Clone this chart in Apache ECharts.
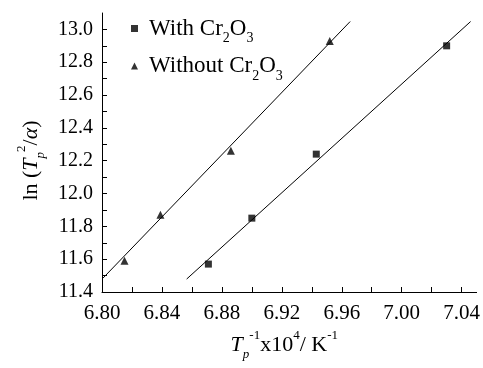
<!DOCTYPE html>
<html>
<head>
<meta charset="utf-8">
<script src="https://cdn.jsdelivr.net/npm/echarts@6/dist/echarts.min.js"></script>
<style>
  html, body { margin: 0; padding: 0; background: #fff; }
  #chart { width: 483px; height: 368px; }
</style>
</head>
<body>
<div id="chart"></div>
<script>
// measured points, [1/Tp x10^4, ln(Tp^2/a)]
const withCr2O3 = [[6.871, 11.57], [6.900, 11.85], [6.943, 12.24], [7.030, 12.90]];
const withoutCr2O3 = [[6.815, 11.59], [6.839, 11.87], [6.886, 12.26], [6.952, 12.93]];
// fitted lines (end points)
const fitWith = [[6.8565, 11.479], [7.046, 13.048]];
const fitWithout = [[6.8007, 11.485], [6.9656, 13.048]];

const xLabels = [6.80, 6.84, 6.88, 6.92, 6.96, 7.00, 7.04];
const xTicks = [6.80, 6.82, 6.84, 6.86, 6.88, 6.90, 6.92, 6.94, 6.96, 6.98, 7.00, 7.02, 7.04];
const yLabels = [11.4, 11.6, 11.8, 12.0, 12.2, 12.4, 12.6, 12.8, 13.0];
const yTicks = [11.4, 11.5, 11.6, 11.7, 11.8, 11.9, 12.0, 12.1, 12.2, 12.3, 12.4, 12.5, 12.6, 12.7, 12.8, 12.9, 13.0];

const serif = '"Liberation Serif", "DejaVu Serif", serif';
const ink = '#000';

// rich text styles for sub / superscripts
function makeRich(size, small, lh) {
  return {
    n: { fontFamily: serif, fontSize: size, color: ink, lineHeight: lh, verticalAlign: 'middle' },
    i: { fontFamily: serif, fontSize: size, color: ink, fontStyle: 'italic', lineHeight: lh, verticalAlign: 'middle' },
    sup: { fontFamily: serif, fontSize: small, color: ink, lineHeight: small, verticalAlign: 'top' },
    sub: { fontFamily: serif, fontSize: small, color: ink, lineHeight: small, verticalAlign: 'bottom' },
    isub: { fontFamily: serif, fontSize: small, color: ink, fontStyle: 'italic', lineHeight: small, verticalAlign: 'bottom' }
  };
}
const legendRich = makeRich(23, 14, 34);
const nameRich = makeRich(22, 13, 32);

const myChart = echarts.init(document.getElementById('chart'));
const option = {
  animation: false,
  backgroundColor: '#fff',
  grid: { left: 102, right: 6, top: 13, bottom: 76 },
  legend: {
    orient: 'vertical',
    left: 126,
    top: 12,
    itemWidth: 7,
    itemHeight: 7,
    itemGap: 9,
    data: [
      { name: 'With', icon: 'rect' },
      { name: 'Without', icon: 'triangle' }
    ],
    formatter: function (name) {
      return '{n|' + name + ' Cr}{sub|2}{n|O}{sub|3}';
    },
    textStyle: { rich: legendRich, padding: [0, 0, 0, 6] }
  },
  xAxis: {
    type: 'value',
    min: 6.80,
    max: 7.05,
    interval: 0.04,
    name: '{i|T}{isub|p}{sup|-1}{n|x10}{sup|4}{n|/ K}{sup|-1}',
    nameLocation: 'middle',
    nameGap: 36,
    nameTextStyle: { rich: nameRich, padding: [0, 10, 0, 0] },
    axisLine: { lineStyle: { color: ink, width: 1 } },
    axisTick: { inside: true, length: 5, customValues: xTicks, lineStyle: { color: ink } },
    axisLabel: {
      customValues: xLabels,
      margin: 11,
      fontFamily: serif,
      fontSize: 21,
      color: ink,
      formatter: v => v.toFixed(2)
    },
    splitLine: { show: false }
  },
  yAxis: {
    type: 'value',
    min: 11.4,
    max: 13.1,
    interval: 0.2,
    name: '{n|ln (}{i|T}{isub|p}{sup|2}{n|/}{i|α}{n|)}',
    nameLocation: 'middle',
    nameGap: 54,
    nameRotate: 90,
    nameTextStyle: { rich: nameRich, padding: [0, 16, 0, 0] },
    axisLine: { lineStyle: { color: ink, width: 1 } },
    axisTick: { inside: true, length: 5, customValues: yTicks, lineStyle: { color: ink } },
    axisLabel: {
      customValues: yLabels,
      margin: 9,
      fontFamily: serif,
      fontSize: 20,
      color: ink,
      formatter: v => v.toFixed(1)
    },
    splitLine: { show: false }
  },
  series: [
    {
      name: 'With',
      type: 'scatter',
      symbol: 'rect',
      symbolSize: 7,
      itemStyle: { color: ink },
      data: withCr2O3,
      z: 3
    },
    {
      name: 'Without',
      type: 'scatter',
      symbol: 'triangle',
      symbolSize: 8,
      itemStyle: { color: ink },
      data: withoutCr2O3,
      z: 3
    },
    {
      name: 'fitWith',
      type: 'line',
      symbol: 'none',
      lineStyle: { color: ink, width: 1 },
      data: fitWith
    },
    {
      name: 'fitWithout',
      type: 'line',
      symbol: 'none',
      lineStyle: { color: ink, width: 1 },
      data: fitWithout
    }
  ]
};
myChart.setOption(option);
</script>
</body>
</html>
